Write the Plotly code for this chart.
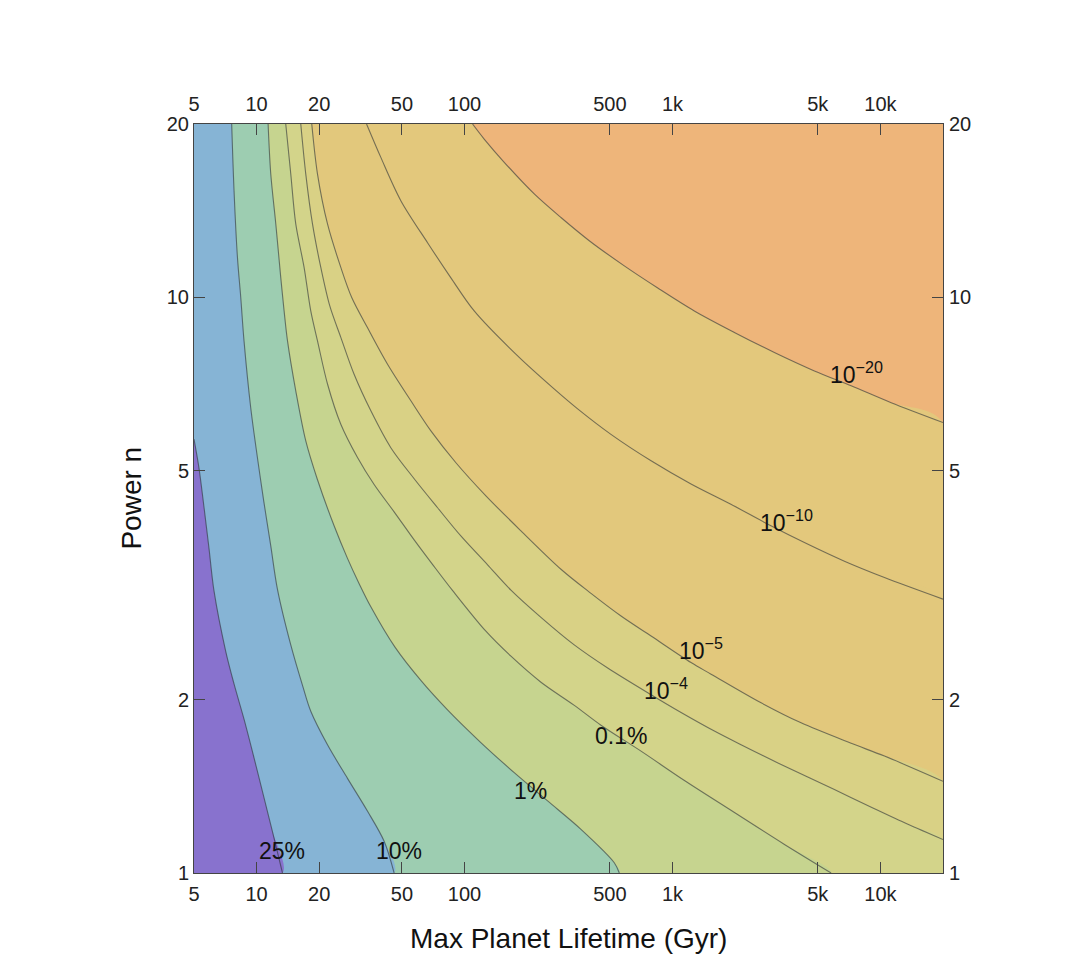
import numpy as np
import plotly.graph_objects as go

# axis limits
X_RANGE = (5, 20000)
N_RANGE = (1, 20)

# contour lines (Max Planet Lifetime in Gyr, power n), from top/left end
c25_x = [5.0, 5.28, 5.59, 5.90, 6.24, 7.10, 7.79, 8.70, 9.72, 10.86, 11.92, 13.32]
c25_n = [5.67, 5.06, 4.31, 3.67, 3.09, 2.43, 2.13, 1.85, 1.585, 1.35, 1.18, 1.0]

c10_x = [7.59, 7.79, 8.09, 8.39, 8.70, 9.37, 10.09, 10.82, 11.70, 12.60, 14.60, 16.68,
         18.22, 21.93, 27.36, 34.17, 41.06, 45.86]
c10_n = [20, 15.32, 11.73, 10.0, 8.40, 6.43, 5.27, 4.43, 3.70, 3.11, 2.49, 2.11,
         1.91, 1.67, 1.46, 1.28, 1.135, 1.0]

c1_x = [11.36, 11.70, 12.37, 13.07, 13.56, 14.08, 15.43, 17.24, 19.63, 23.59, 27.36, 31.01,
        35.43, 46.21, 61.64, 82.85, 119.8, 173.4, 251, 363, 525, 555]
c1_n = [20, 16.37, 13.41, 10.82, 9.47, 8.40, 6.88, 5.63, 4.82, 4.01, 3.52, 3.19,
        2.90, 2.47, 2.16, 1.92, 1.685, 1.494, 1.334, 1.191, 1.042, 1.0]

c01_x = [13.81, 14.60, 15.43, 16.92, 18.22, 19.63, 21.93, 25.41, 30.57, 36.75, 45.86, 57.25,
         70.42, 87.9, 126.7, 167.2, 233.1, 336, 453, 706, 1137, 1978, 3442, 5794]
c01_n = [20, 16.37, 13.41, 11.27, 9.47, 8.40, 7.07, 6.02, 5.27, 4.73, 4.24, 3.79,
         3.43, 3.09, 2.63, 2.38, 2.145, 1.957, 1.806, 1.628, 1.449, 1.275, 1.122, 1.0]

c4_x = [16.31, 17.24, 18.57, 20.36, 22.49, 25.41, 29.44, 35.44, 44.21, 57.25, 74.19, 96.0,
        129.1, 167.2, 233.1, 337, 488, 789, 1100, 1590, 2137, 3330, 6009, 9363, 13560, 20000]
c4_n = [20, 16.37, 13.41, 11.27, 9.66, 8.52, 7.35, 6.35, 5.48, 4.84, 4.31, 3.85,
        3.43, 3.10, 2.78, 2.49, 2.27, 2.04, 1.90, 1.764, 1.67, 1.543, 1.396, 1.293, 1.215, 1.143]

c5_x = [18.42, 19.63, 21.93, 25.41, 28.71, 34.17, 42.63, 55.19, 68.9, 90.9, 126.7, 186.7,
        290.9, 405.6, 565.6, 789, 1228, 1533, 2668, 4155, 7234, 10460, 20000]
c5_n = [20, 16.37, 13.41, 11.27, 9.98, 8.85, 7.65, 6.61, 5.86, 5.16, 4.52, 3.93,
        3.37, 3.06, 2.795, 2.58, 2.32, 2.215, 1.975, 1.823, 1.68, 1.596, 1.443]

c10m_x = [33.79, 39.58, 49.39, 66.4, 86.0, 111.3, 180.1, 266.2, 350, 506, 789, 1228,
          1909, 2974, 4310, 6714, 10460, 20000]
c10m_n = [20, 17.5, 14.72, 12.44, 10.81, 9.47, 7.91, 6.96, 6.40, 5.78, 5.20, 4.74,
          4.37, 4.01, 3.75, 3.48, 3.26, 2.99]

c20m_x = [109.3, 124.3, 155.2, 216.4, 290.9, 398, 586.6, 849.6, 1274, 1985, 3091, 4815,
          7232, 11270, 20000]
c20m_n = [20, 18.83, 17.16, 15.12, 13.76, 12.54, 11.34, 10.38, 9.47, 8.69, 8.02, 7.45,
          7.02, 6.56, 6.06]

# colour of the band below/left of each line, plus the top band
band_colors = ["#e3c87c", "#e2c87c", "#d9d185", "#d3d48a", "#c6d48f",
               "#9dcdb1", "#86b4d5", "#8872ce"]
top_color = "#eeb57a"

# contour labels: text, x (Gyr), n
label_text = ["25%", "10%", "1%", "0.1%", "10<sup>−4</sup>", "10<sup>−5</sup>",
              "10<sup>−10</sup>", "10<sup>−20</sup>"]
label_x = [13.2, 48.5, 208.6, 565.6, 931, 1372, 3520, 7645]
label_n = [1.09, 1.09, 1.387, 1.729, 2.086, 2.447, 4.09, 7.39]

tick_vals = [5, 10, 20, 50, 100, 500, 1000, 5000, 10000]
tick_text = ["5", "10", "20", "50", "100", "500", "1k", "5k", "10k"]
n_ticks = [1, 2, 5, 10, 20]

lines = [(c20m_x, c20m_n), (c10m_x, c10m_n), (c5_x, c5_n), (c4_x, c4_n),
         (c01_x, c01_n), (c1_x, c1_n), (c10_x, c10_n), (c25_x, c25_n)]


def region(xs, ns):
    # close the line around the lower-left corner of the plot
    px, pn = list(xs), list(ns)
    if pn[-1] > N_RANGE[0]:
        px.append(X_RANGE[1]); pn.append(N_RANGE[0])
    px.append(X_RANGE[0]); pn.append(N_RANGE[0])
    if pn[0] >= N_RANGE[1]:
        px.append(X_RANGE[0]); pn.append(N_RANGE[1])
    return px, pn


fig = go.Figure()

for (xs, ns), col in zip(lines, band_colors):
    px, pn = region(xs, ns)
    fig.add_trace(go.Scatter(x=px, y=pn, mode="lines", fill="toself", fillcolor=col,
                             line=dict(width=0, shape="spline", smoothing=0.9),
                             hoverinfo="skip", showlegend=False))

for xs, ns in lines:
    fig.add_trace(go.Scatter(x=xs, y=ns, mode="lines",
                             line=dict(color="rgba(45,50,55,0.6)", width=1.1,
                                       shape="spline", smoothing=0.9),
                             hoverinfo="skip", showlegend=False))

# empty trace so the mirrored axes get drawn
fig.add_trace(go.Scatter(x=[], y=[], xaxis="x2", yaxis="y2", showlegend=False))

FONT = "Liberation Sans, Arial, sans-serif"

for t, lx, ln in zip(label_text, label_x, label_n):
    fig.add_annotation(x=np.log10(lx), y=np.log10(ln), text=t, showarrow=False,
                       font=dict(family=FONT, size=23, color="#111"))

xr = [np.log10(X_RANGE[0]), np.log10(X_RANGE[1])]
yr = [np.log10(N_RANGE[0]), np.log10(N_RANGE[1])]
tick_font = dict(family=FONT, size=20, color="#222")
common = dict(showline=True, linecolor="#444", linewidth=1, ticks="inside", ticklen=11,
              tickcolor="#444", showgrid=False, zeroline=False, tickfont=tick_font)
n_text = [str(v) for v in n_ticks]

fig.update_layout(
    width=1087, height=967,
    margin=dict(l=186, r=152, t=116, b=102),
    paper_bgcolor="white", plot_bgcolor=top_color,
    xaxis=dict(type="log", range=xr, tickvals=tick_vals, ticktext=tick_text,
               ticklabelstandoff=3, **common),
    yaxis=dict(type="log", range=yr, tickvals=n_ticks, ticktext=n_text,
               ticklabelstandoff=0, **common),
    xaxis2=dict(type="log", range=xr, tickvals=tick_vals, ticktext=tick_text,
                overlaying="x", side="top", ticklabelstandoff=4, **common),
    yaxis2=dict(type="log", range=yr, tickvals=n_ticks, ticktext=n_text,
                overlaying="y", side="right", ticklabelstandoff=1, **common),
)

title_font = dict(family=FONT, size=28, color="#111")
fig.add_annotation(xref="paper", yref="paper", x=0.5, y=-0.088, text="Max Planet Lifetime (Gyr)",
                   showarrow=False, font=title_font, yanchor="middle")
fig.add_annotation(xref="paper", yref="paper", x=-0.084, y=0.5, text="Power n", textangle=-90,
                   showarrow=False, font=title_font, xanchor="center", yanchor="middle")

fig.write_html("out.html")
